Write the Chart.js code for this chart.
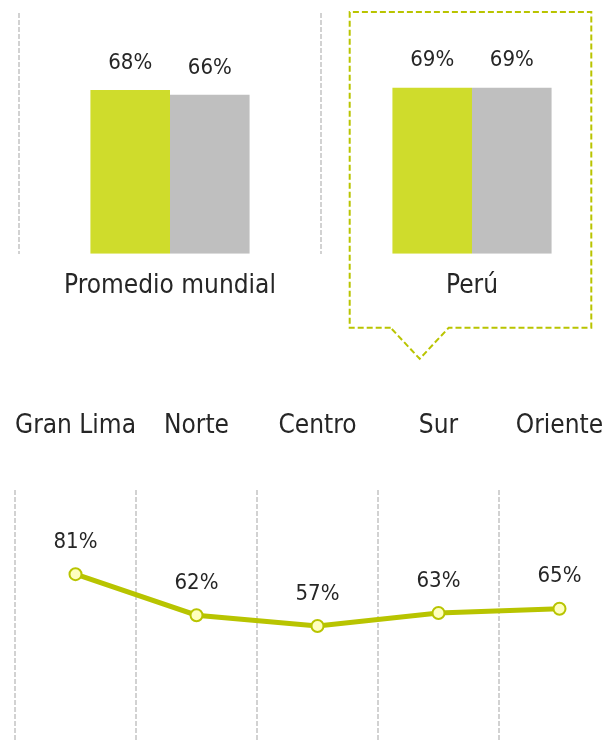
<html><head>
<meta charset="UTF-8">
<title>Promedio mundial vs Perú</title>
<style>
    body, html {
        margin: 0;
        padding: 0;
        background: #fff;
        overflow: hidden;
        width: 607px;
        height: 742px;
    }
    canvas {
        position: absolute;
        left: 0;
    }
    #barChart { top: 0; }
    #lineChart { top: 380px; }
</style>
<script src="https://cdn.jsdelivr.net/npm/chart.js@4/dist/chart.umd.min.js"></script>
</head>
<body>
<canvas id="barChart" width="640" height="372"></canvas>
<canvas id="lineChart" width="640" height="380"></canvas>

<script>
    // data
    const barCategories = ['Promedio mundial', 'Perú'];
    const greenValues = [68, 69];
    const greyValues = [66, 69];

    const regions = ['Gran Lima', 'Norte', 'Centro', 'Sur', 'Oriente'];
    const regionValues = [81, 62, 57, 63, 65];

    const FONT = '"DejaVu Sans Condensed", "DejaVu Sans", sans-serif';
    const TEXT = '#262626';
    const GRID = '#d2d2d2';

    // writes "NN%" above each bar / point
    const valueLabels = {
        id: 'valueLabels',
        afterDatasetsDraw(chart, args, opts) {
            const ctx = chart.ctx;
            ctx.save();
            ctx.font = '22px ' + FONT;
            ctx.fillStyle = TEXT;
            ctx.textAlign = 'center';
            ctx.textBaseline = 'middle';
            chart.data.datasets.forEach((ds, i) => {
                chart.getDatasetMeta(i).data.forEach((el, j) => {
                    ctx.fillText(ds.data[j] + '%', el.x, el.y - opts.offset);
                });
            });
            ctx.restore();
        }
    };

    // dashed callout box round the Perú group
    const calloutBox = {
        id: 'calloutBox',
        afterDraw(chart) {
            const x = chart.scales.x;
            const area = chart.chartArea;
            const cx = x.getPixelForValue(1);
            const cw = x.getPixelForValue(1) - x.getPixelForValue(0);
            const left = cx - cw * 0.405;
            const right = cx + cw * 0.395;
            const top = area.top - 1;
            const bottom = area.bottom + 74;
            const ctx = chart.ctx;
            ctx.save();
            ctx.strokeStyle = '#b9c400';
            ctx.lineWidth = 2;
            ctx.setLineDash([6, 3]);
            ctx.beginPath();
            ctx.moveTo(left + 41, bottom);
            ctx.lineTo(left, bottom);
            ctx.lineTo(left, top);
            ctx.lineTo(right, top);
            ctx.lineTo(right, bottom);
            ctx.lineTo(left + 99, bottom);
            ctx.lineTo(left + 70, bottom + 31);
            ctx.lineTo(left + 41, bottom);
            ctx.stroke();
            ctx.restore();
        }
    };

    new Chart(document.getElementById('barChart'), {
        type: 'bar',
        data: {
            labels: barCategories,
            datasets: [{
                data: greenValues,
                backgroundColor: '#cfdc2c'
            }, {
                data: greyValues,
                backgroundColor: '#bfbfbf'
            }]
        },
        options: {
            responsive: false,
            animation: false,
            categoryPercentage: 0.527,
            barPercentage: 1,
            layout: { autoPadding: false, padding: { left: 19, right: 17, top: 13, bottom: 53 } },
            scales: {
                x: {
                    grid: { offset: true, drawTicks: false, color: GRID, lineWidth: 2 },
                    border: { display: false, dash: [5, 2] },
                    ticks: { font: { family: FONT, size: 26 }, color: TEXT, padding: 17, maxRotation: 0 },
                    afterFit(scale) { scale.paddingLeft = 0; scale.paddingRight = 0; }
                },
                y: { display: false, min: 0, max: 100 }
            },
            plugins: {
                legend: { display: false },
                tooltip: { enabled: false },
                valueLabels: { offset: 27 }
            }
        },
        plugins: [valueLabels, calloutBox]
    });

    new Chart(document.getElementById('lineChart'), {
        type: 'line',
        data: {
            labels: regions,
            datasets: [{
                data: regionValues,
                borderColor: '#b8c400',
                borderWidth: 5,
                pointRadius: 6,
                pointBorderWidth: 2,
                pointBackgroundColor: '#ffffbf',
                pointBorderColor: '#b8c400',
                clip: false
            }]
        },
        options: {
            responsive: false,
            animation: false,
            layout: { autoPadding: false, padding: { left: 15, right: 20, top: 0, bottom: 11 } },
            scales: {
                x: {
                    position: 'top',
                    offset: true,
                    grid: { offset: true, drawTicks: false, color: GRID, lineWidth: 2 },
                    border: { display: false, dash: [5, 2] },
                    ticks: {
                        font: { family: FONT, size: 26 }, color: TEXT, padding: 48,
                        minRotation: 0, maxRotation: 0, autoSkip: false
                    },
                    afterFit(scale) {
                        scale.height = 110;
                        scale.paddingLeft = 0;
                        scale.paddingRight = 0;
                    }
                },
                y: { display: false, min: 0, max: 120 }
            },
            plugins: {
                legend: { display: false },
                tooltip: { enabled: false },
                valueLabels: { offset: 32 }
            }
        },
        plugins: [valueLabels]
    });
</script>
</body></html>
